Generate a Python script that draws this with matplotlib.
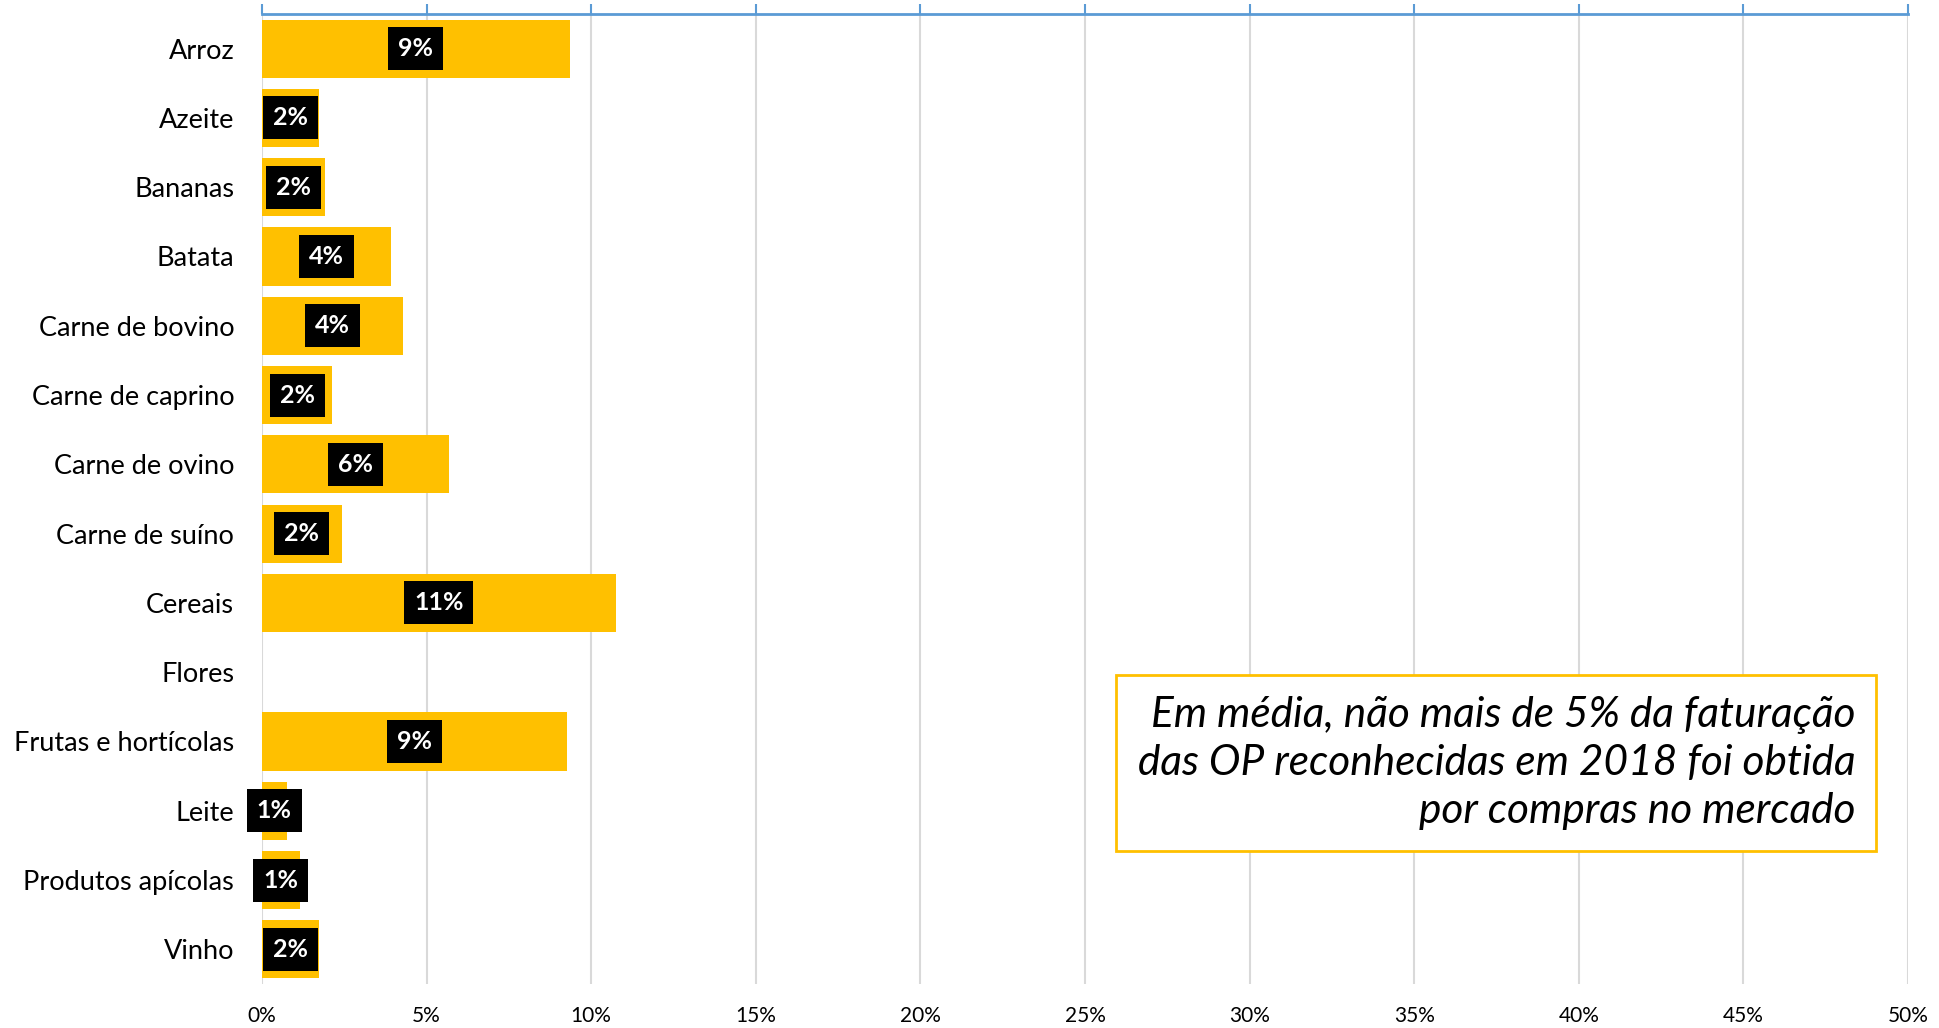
import matplotlib
matplotlib.use("Agg")
import matplotlib.pyplot as plt
import numpy as np

#
# data (share of turnover, %)
#
categories = ["Arroz", "Azeite", "Bananas", "Batata", "Carne de bovino",
              "Carne de caprino", "Carne de ovino", "Carne de suíno", "Cereais",
              "Flores", "Frutas e hortícolas", "Leite", "Produtos apícolas", "Vinho"]
values = [9.35, 1.74, 1.90, 3.92, 4.28, 2.14, 5.69, 2.43, 10.74,
          0.0, 9.28, 0.75, 1.15, 1.74]
labels = ["9%", "2%", "2%", "4%", "4%", "2%", "6%", "2%", "11%",
          None, "9%", "1%", "1%", "2%"]
xticks = [0, 5, 10, 15, 20, 25, 30, 35, 40, 45, 50]
note = "Em média, não mais de 5% da faturação\ndas OP reconhecidas em 2018 foi obtida\npor compras no mercado"

plt.rcParams['font.family'] = ['Lato', 'DejaVu Sans']

fig = plt.figure(figsize=(19.39, 10.28), dpi=100)
ax = fig.add_axes([0.1351, 0.0428, 0.984 - 0.1351, 0.9864 - 0.0428])

y = np.arange(len(categories))
ax.barh(y, values, height=0.84, color='#FFC000', zorder=2)

for yi, v, lab in zip(y, values, labels):
    if lab is None:
        continue
    ax.text(v / 2, yi, lab, ha='center', va='center', color='white',
            fontsize=18, fontweight='bold', zorder=4,
            bbox=dict(facecolor='black', edgecolor='none', boxstyle='square,pad=0.4'))

ax.set_xlim(0, 50)
ax.set_ylim(len(categories) - 0.5, -0.5)
ax.set_yticks(y)
ax.set_yticklabels(categories, fontsize=19.5)
ax.set_xticks(xticks)
ax.set_xticklabels([f"{t}%" for t in xticks], fontsize=15)

ax.grid(axis='x', color='#D9D9D9', linewidth=1.5, zorder=0)
ax.set_axisbelow(True)

for s in ['left', 'right', 'bottom']:
    ax.spines[s].set_visible(False)
ax.spines['top'].set_color('#5B9BD5')
ax.spines['top'].set_linewidth(2)

ax.tick_params(axis='x', top=True, bottom=False, labeltop=False, labelbottom=True,
               direction='out', length=7, width=1.5, color='#5B9BD5', pad=9)
ax.tick_params(axis='y', length=0, pad=20)

ax.text(0.968, 0.228, note, transform=ax.transAxes, ha='right', va='center',
        fontsize=30.5, style='italic', linespacing=1.32,
        bbox=dict(facecolor='white', edgecolor='#FFC000', linewidth=2,
                  boxstyle='square,pad=0.5'))

plt.savefig('out.png', dpi=100)
plt.close()
